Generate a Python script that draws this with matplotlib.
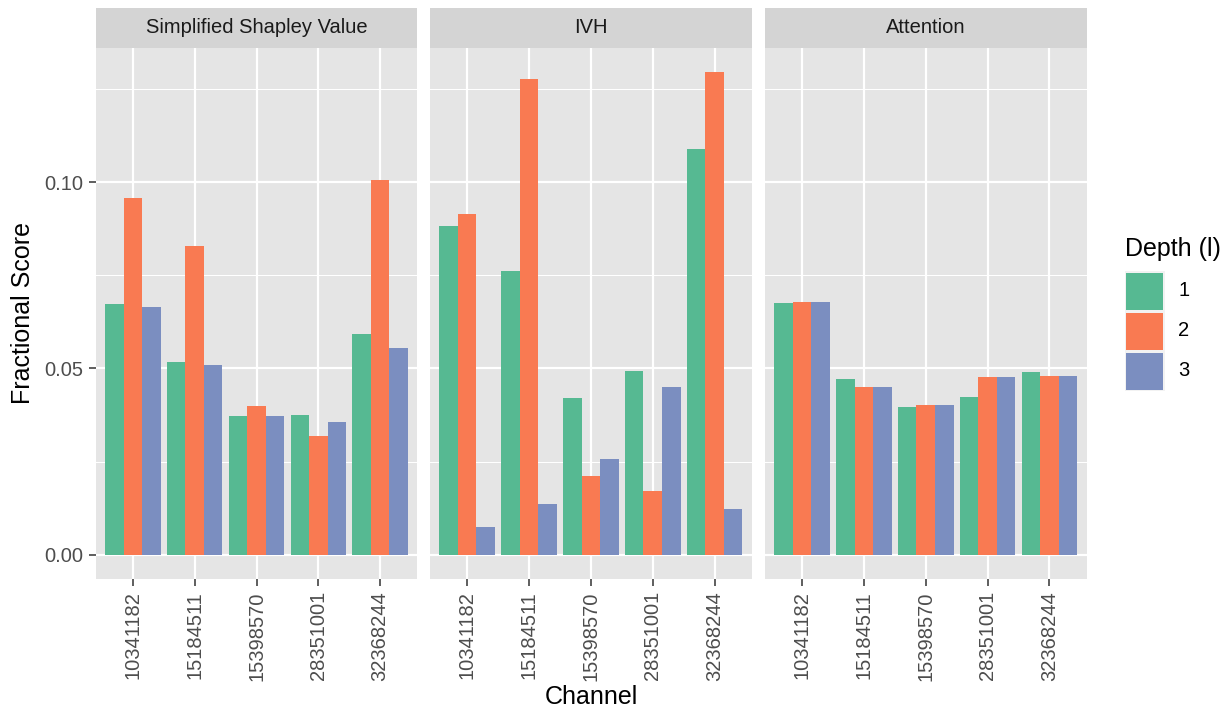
#!/usr/bin/env python

"""
Faceted grouped bar chart: fractional score per channel and depth,
one panel per attribution method (ggplot2 look).
"""

import numpy as np
import matplotlib
matplotlib.use("Agg")
import matplotlib.pyplot as plt
from matplotlib.patches import Rectangle
from matplotlib.ticker import MultipleLocator

# ---------- data ----------
channels = ["10341182", "15184511", "15398570", "28351001", "32368244"]
methods = ["Simplified Shapley Value", "IVH", "Attention"]
depths = ["1", "2", "3"]

shapley_d1 = [0.0672, 0.0517, 0.0373, 0.0375, 0.0592]
shapley_d2 = [0.0959, 0.0830, 0.0399, 0.0318, 0.1006]
shapley_d3 = [0.0665, 0.0509, 0.0371, 0.0356, 0.0556]

ivh_d1 = [0.0884, 0.0762, 0.0420, 0.0493, 0.1089]
ivh_d2 = [0.0914, 0.1277, 0.0212, 0.0170, 0.1297]
ivh_d3 = [0.0073, 0.0135, 0.0258, 0.0451, 0.0123]

attention_d1 = [0.0676, 0.0471, 0.0396, 0.0423, 0.0490]
attention_d2 = [0.0679, 0.0449, 0.0401, 0.0477, 0.0481]
attention_d3 = [0.0679, 0.0451, 0.0401, 0.0477, 0.0481]

panel_values = [
    [shapley_d1, shapley_d2, shapley_d3],
    [ivh_d1, ivh_d2, ivh_d3],
    [attention_d1, attention_d2, attention_d3],
]

# ---------- style ----------
colors = ["#56B992", "#F97A52", "#7B8EC0"]
panel_bg = "#E5E5E5"
strip_bg = "#D4D4D4"
plt.rcParams["font.family"] = ["Liberation Sans", "DejaVu Sans"]

W, H = 1232, 711
fig = plt.figure(figsize=(W / 100, H / 100), dpi=100)

def fig_rect(x0, y0, x1, y1):
    # pixel box (top-left origin) -> figure fraction
    return [x0 / W, 1 - y1 / H, (x1 - x0) / W, (y1 - y0) / H]

panel_x = [(95.7, 417.3), (430.0, 751.7), (765.0, 1086.5)]
panel_top, panel_bottom = 47.7, 578.7
strip_top = 8.0

all_vals = np.concatenate([np.ravel(v) for v in panel_values])
ymax = all_vals.max()
pad = 0.05 * ymax
ylim = (-pad, ymax + pad)

x = np.arange(1, len(channels) + 1)
bar_w = 0.9 / len(depths)
offsets = (np.arange(len(depths)) - (len(depths) - 1) / 2) * bar_w

for p, (method, vals) in enumerate(zip(methods, panel_values)):
    x0, x1 = panel_x[p]
    ax = fig.add_axes(fig_rect(x0, panel_top, x1, panel_bottom))
    ax.set_facecolor(panel_bg)
    for s in ax.spines.values():
        s.set_visible(False)

    for d, series in enumerate(vals):
        ax.bar(x + offsets[d], series, width=bar_w, color=colors[d],
               linewidth=0, zorder=3)

    ax.set_xlim(0.4, len(channels) + 0.6)
    ax.set_ylim(*ylim)
    ax.yaxis.set_major_locator(MultipleLocator(0.05))
    ax.yaxis.set_minor_locator(MultipleLocator(0.025))
    ax.set_xticks(x)
    ax.set_xticklabels(channels, rotation=90)
    ax.grid(which="major", color="white", linewidth=1.6, zorder=1)
    ax.grid(which="minor", axis="y", color="white", linewidth=0.75, zorder=1)
    ax.tick_params(axis="both", which="major", length=5, width=1.1,
                   color="#333333", labelsize=14.5, labelcolor="#4D4D4D",
                   pad=4)
    ax.tick_params(axis="y", which="minor", length=0)
    if p == 0:
        ax.set_yticklabels([f"{t:.2f}" for t in ax.get_yticks()])
    else:
        ax.tick_params(axis="y", which="major", length=0, labelleft=False)

    # facet strip
    sax = fig.add_axes(fig_rect(x0, strip_top, x1, panel_top))
    sax.set_xlim(0, 1)
    sax.set_ylim(0, 1)
    sax.axis("off")
    sax.add_patch(Rectangle((0, 0), 1, 1, facecolor=strip_bg, edgecolor="none"))
    sax.text(0.5, 0.5, method, ha="center", va="center", fontsize=14.5,
             color="#1A1A1A")

# axis titles
fig.text(591 / W, 1 - 697 / H, "Channel", ha="center", va="center",
         fontsize=18)
fig.text(23 / W, 1 - ((panel_top + panel_bottom) / 2) / H, "Fractional Score",
         ha="center", va="center", rotation=90, fontsize=18)

# legend
fig.text(1125 / W, 1 - 249 / H, "Depth (l)", ha="left", va="center",
         fontsize=18)
key_x0, key_size, key_step, key_y0 = 1124.5, 40, 40, 271
for d, label in enumerate(depths):
    ky = key_y0 + d * key_step
    fig.patches.append(Rectangle((key_x0 / W, 1 - (ky + key_size) / H),
                                 key_size / W, key_size / H,
                                 transform=fig.transFigure,
                                 facecolor="#F2F2F2", edgecolor="none"))
    fig.patches.append(Rectangle(((key_x0 + 1.5) / W, 1 - (ky + key_size - 1.5) / H),
                                 (key_size - 3) / W, (key_size - 3) / H,
                                 transform=fig.transFigure,
                                 facecolor=colors[d], edgecolor="none"))
    fig.text(1178 / W, 1 - (ky + key_size / 2) / H, label, ha="left",
             va="center", fontsize=14.5)

fig.savefig("out.png", dpi=100, facecolor="white")
